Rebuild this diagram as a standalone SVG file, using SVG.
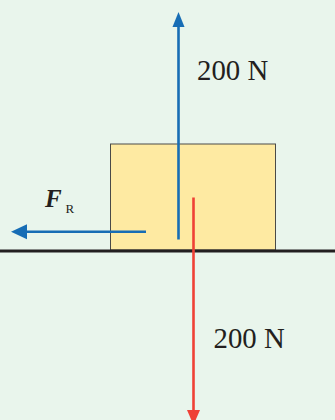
<svg xmlns="http://www.w3.org/2000/svg" width="335" height="420" viewBox="0 0 335 420">
<defs>
<style>
.lbl{font-family:"Liberation Serif","Times New Roman",serif;fill:#231f20}
.blue{stroke:#176db5;stroke-width:2.6;fill:none}
.red{stroke:#ef4136;stroke-width:2.6;fill:none}
</style>
<marker id="hb" markerUnits="userSpaceOnUse" markerWidth="16" markerHeight="15" refX="0" refY="7.5" orient="auto">
<path d="M0,1.5 L15,7.5 L0,13.5 z" fill="#176db5"/>
</marker>
<marker id="hbl" markerUnits="userSpaceOnUse" markerWidth="17" markerHeight="16" refX="0" refY="8" orient="auto">
<path d="M0,0.5 L16,8 L0,15.5 z" fill="#176db5"/>
</marker>
<marker id="hr" markerUnits="userSpaceOnUse" markerWidth="16" markerHeight="15" refX="0" refY="7.5" orient="auto">
<path d="M0,1 L15,7.5 L0,14 z" fill="#ef4136"/>
</marker>
</defs>
<rect width="335" height="420" fill="#e9f5ec"/>
<g id="box">
<rect x="110.5" y="144" width="165" height="106" fill="#feeaa2" stroke="#4a4a48" stroke-width="1"/>
</g>
<g id="ground">
<line x1="0" y1="251" x2="335" y2="251" stroke="#231f20" stroke-width="3"/>
</g>
<g id="connectors">
<line class="blue" x1="178.5" y1="239.5" x2="178.5" y2="27" marker-end="url(#hb)"/>
<line class="red" x1="193.5" y1="197.5" x2="193.5" y2="410" marker-end="url(#hr)"/>
<line class="blue" x1="146" y1="231.7" x2="27" y2="231.7" marker-end="url(#hbl)"/>
</g>
<g id="label-up">
<text class="lbl" x="197" y="80" font-size="28.8">200 N</text>
</g>
<g id="label-down">
<text class="lbl" x="213.5" y="348.3" font-size="28.8">200 N</text>
</g>
<g id="label-fr">
<text class="lbl" x="45" y="206.8" font-size="25" font-weight="bold" font-style="italic">F</text>
<text class="lbl" x="65.5" y="212.5" font-size="13">R</text>
</g>
</svg>
